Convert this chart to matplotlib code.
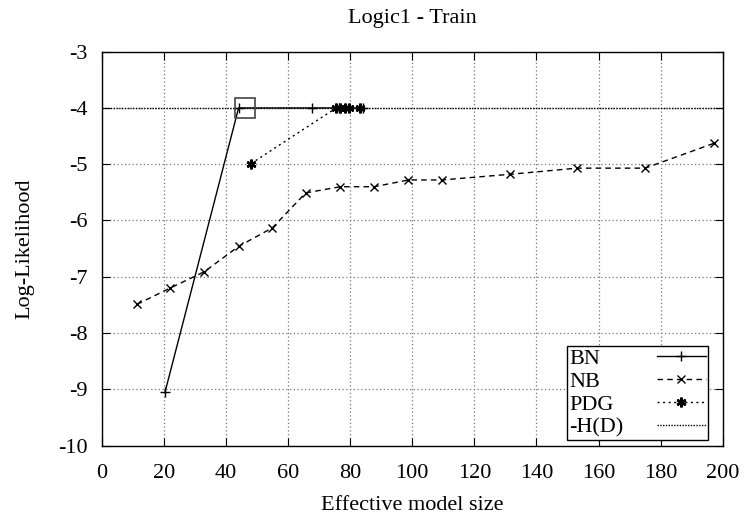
import matplotlib
matplotlib.use("Agg")
import matplotlib.pyplot as plt

plt.rcParams['font.family'] = ['Liberation Serif', 'DejaVu Serif']

# Learning curves: effective model size vs. training log-likelihood
bn_x = [20.4, 44.1, 67.8, 76.5, 84.0]
bn_y = [-9.05, -4.0, -4.0, -4.0, -4.0]

nb_x = [11.4, 22.1, 33.1, 44.1, 55.0, 65.7, 76.9, 87.8, 98.8, 109.5, 131.4, 153.1, 175.0, 197.1]
nb_y = [-7.49, -7.20, -6.91, -6.46, -6.13, -5.51, -5.40, -5.40, -5.28, -5.28, -5.18, -5.07, -5.07, -4.63]

pdg_x = [48.1, 75.5, 76.8, 78.5, 79.6, 83.3]
pdg_y = [-4.99, -4.0, -4.0, -4.0, -4.0, -4.0]

entropy = -4.0           # -H(D)
selected = (46.2, -4.0)  # chosen model

x_ticks = list(range(0, 201, 20))
y_ticks = list(range(-10, -2, 1))

FS = 16

fig = plt.figure(figsize=(7.46, 5.21), dpi=100)
ax = fig.add_axes([0.1363, 0.1449, 0.8325, 0.7559])

ax.plot(bn_x, bn_y, color='black', lw=1.0, marker='+', ms=7, mew=1.0, label='BN')
ax.plot(nb_x, nb_y, color='black', lw=1.0, ls=(0, (4, 3)), marker='x', ms=6, mew=1.0, label='NB')
ax.plot(pdg_x, pdg_y, color='black', lw=1.0, ls=(0, (1.5, 2.5)), marker=(6, 2, 0), ms=7, mew=1.8,
        label='PDG')
ax.plot([0, 200], [entropy, entropy], color='black', lw=1.0, ls=(0, (1, 1)), label='-H(D)')
ax.plot([selected[0]], [selected[1]], marker='s', ms=15, mfc='none', mec='#444444', mew=1.2,
        ls='none')

ax.set_xlim(0, 200)
ax.set_ylim(-10, -3)
ax.set_xticks(x_ticks)
ax.set_yticks(y_ticks)
ax.set_xticklabels([str(v) for v in x_ticks])
ax.set_yticklabels([str(v) for v in y_ticks])
ax.tick_params(direction='in', top=True, right=True, labelsize=FS, length=6)
ax.tick_params(axis='x', pad=13)
ax.tick_params(axis='y', pad=10)
ax.grid(True, color='#777777', ls=(0, (1, 2)), lw=0.9)

for s in ax.spines.values():
    s.set_linewidth(1.0)

ax.set_title('Logic1 - Train', fontsize=FS, pad=21)
ax.set_xlabel('Effective model size', fontsize=FS, labelpad=10)
ax.set_ylabel('Log-Likelihood', fontsize=FS, labelpad=17)

leg = ax.legend(loc='lower right', bbox_to_anchor=(0.977, 0.014), fontsize=FS, frameon=True,
                fancybox=False, edgecolor='black', framealpha=1, handlelength=2.2,
                markerfirst=False, borderpad=0.12, labelspacing=0.1, handletextpad=1.5,
                borderaxespad=0)
leg.get_frame().set_linewidth(1.0)

# left-align the label column: widen the gap on rows with shorter labels
renderer = fig.canvas.get_renderer()
widths = [t.get_window_extent(renderer).width for t in leg.get_texts()]
wmax = max(widths)
column = leg._legend_handle_box.get_children()[0]
for row, w in zip(column.get_children(), widths):
    row.sep += (wmax - w) * 72.0 / fig.dpi

fig.savefig('out.png', dpi=100)
